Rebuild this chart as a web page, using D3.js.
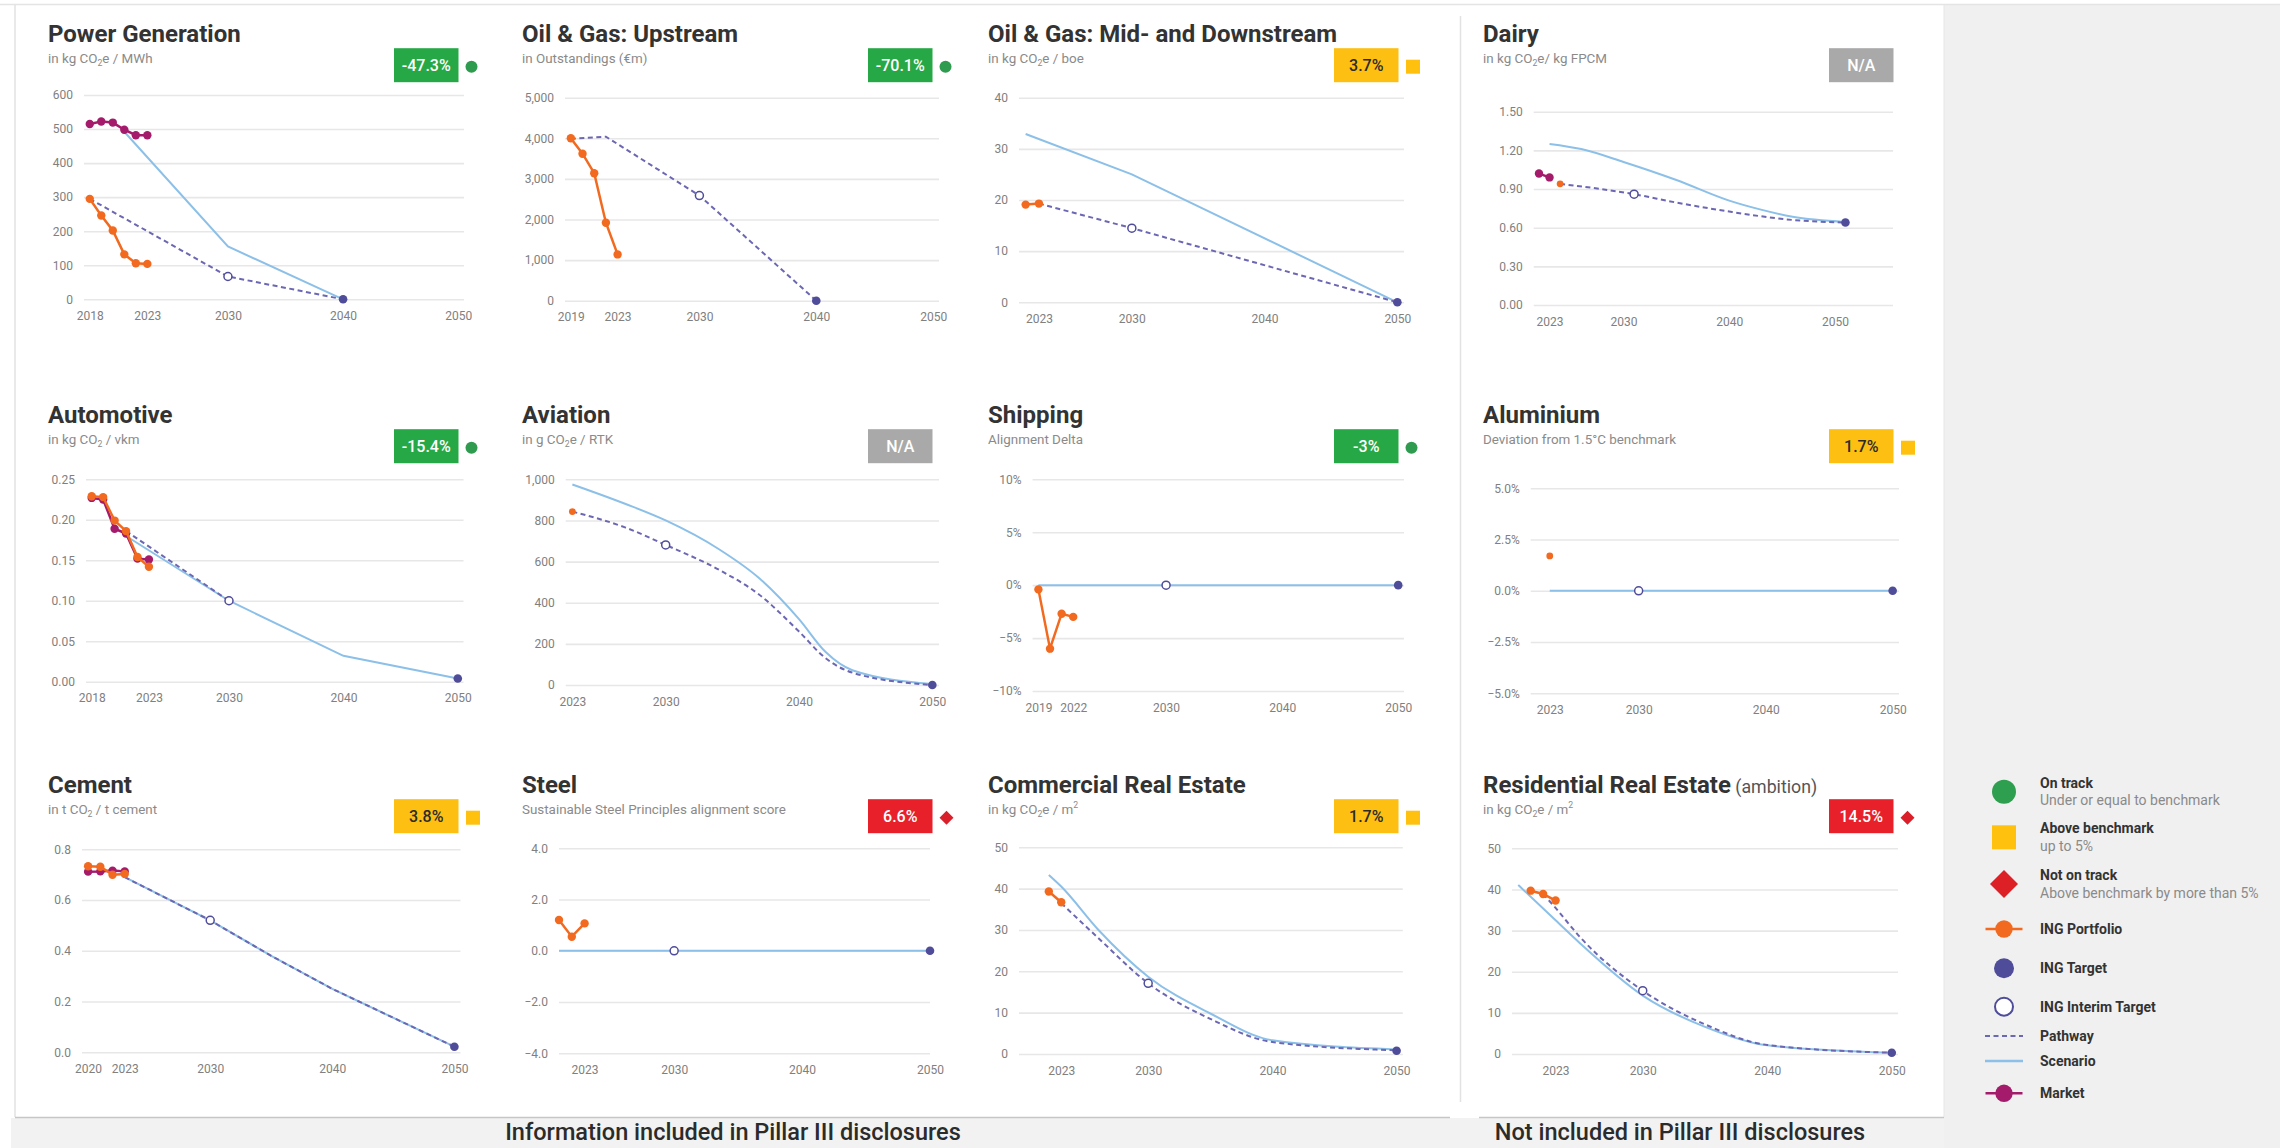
<!DOCTYPE html>
<html>
<head>
<meta charset="utf-8">
<script src="https://cdn.jsdelivr.net/npm/d3@7"></script>
<style>
  html, body { margin: 0; padding: 0; background: #fff; }
  svg { display: block; }
</style>
</head>
<body>
<svg id="chart" width="2280" height="1148"></svg>
<script>
// ---------------- Sector data: [year, value] ----------------
// Power Generation (kg CO2e / MWh)
const powerPortfolio = [[2018, 295], [2019, 246], [2020, 202], [2021, 132], [2022, 106], [2023, 104]];
const powerMarket    = [[2018, 515], [2019, 522], [2020, 519], [2021, 498], [2022, 482], [2023, 482]];
const powerScenario  = [[2021, 492], [2030, 155], [2040, 0]];
const powerPathway   = [[2018, 295], [2030, 67], [2040, 0]];
const powerInterim   = [[2030, 67]];
const powerTarget    = [[2040, 0]];

// Oil & Gas: Upstream (outstandings, EUR m)
const upstreamPortfolio = [[2019, 4000], [2020, 3620], [2021, 3140], [2022, 1920], [2023, 1140]];
const upstreamPathway   = [[2019, 3990], [2022, 4040], [2030, 2590], [2040, 0]];
const upstreamInterim   = [[2030, 2590]];
const upstreamTarget    = [[2040, 0]];

// Oil & Gas: Mid- and Downstream (kg CO2e / boe)
const midPortfolio = [[2022, 19.1], [2023, 19.3]];
const midScenario  = [[2022, 32.9], [2030, 25.0], [2050, 0]];
const midPathway   = [[2023, 19.3], [2030, 14.5], [2050, 0]];
const midInterim   = [[2030, 14.5]];
const midTarget    = [[2050, 0]];

// Dairy (kg CO2e / kg FPCM)
const dairyMarket    = [[2022, 1.02], [2023, 0.99]];
const dairyPortfolio = [[2024, 0.94]];
const dairyScenario  = [[2023, 1.25], [2026, 1.21], [2030, 1.11], [2035, 0.97], [2040, 0.81], [2043, 0.74], [2046, 0.685], [2051, 0.645]];
const dairyPathway   = [[2024, 0.94], [2031, 0.86], [2035, 0.795], [2040, 0.725], [2046, 0.66], [2051, 0.64]];
const dairyInterim   = [[2031, 0.86]];
const dairyTarget    = [[2051, 0.64]];

// Automotive (kg CO2 / vkm)
const autoPortfolio = [[2018, 0.229], [2019, 0.228], [2020, 0.199], [2021, 0.186], [2022, 0.154], [2023, 0.142]];
const autoMarket    = [[2018, 0.227], [2019, 0.225], [2020, 0.189], [2021, 0.183], [2022, 0.152], [2023, 0.151]];
const autoScenario  = [[2021, 0.180], [2030, 0.100], [2040, 0.032], [2050, 0.004]];
const autoPathway   = [[2021, 0.186], [2030, 0.100]];
const autoInterim   = [[2030, 0.100]];
const autoTarget    = [[2050, 0.004]];

// Aviation (g CO2e / RTK)
const aviationPortfolio = [[2023, 843]];
const aviationScenario  = [[2023, 975], [2027, 880], [2030, 800], [2034, 660], [2037, 520], [2040, 320], [2042, 160], [2044, 72], [2050, 5]];
const aviationPathway   = [[2023, 843], [2027, 765], [2030, 681], [2034, 560], [2037, 440], [2040, 260], [2042, 130], [2044, 60], [2050, 0]];
const aviationInterim   = [[2030, 681]];
const aviationTarget    = [[2050, 0]];

// Shipping (alignment delta, %)
const shippingPortfolio = [[2019, -0.4], [2020, -6.0], [2021, -2.7], [2022, -3.0]];
const shippingScenario  = [[2019, 0], [2050, 0]];
const shippingInterim   = [[2030, 0]];
const shippingTarget    = [[2050, 0]];

// Aluminium (deviation from 1.5°C benchmark, %)
const aluminiumPortfolio = [[2023, 1.7]];
const aluminiumScenario  = [[2023, 0], [2050, 0]];
const aluminiumInterim   = [[2030, 0]];
const aluminiumTarget    = [[2050, 0]];

// Cement (t CO2 / t cement)
const cementPortfolio = [[2020, 0.733], [2021, 0.731], [2022, 0.700], [2023, 0.703]];
const cementMarket    = [[2020, 0.712], [2021, 0.713], [2022, 0.716], [2023, 0.713]];
const cementScenario  = [[2023, 0.69], [2030, 0.52], [2035, 0.38], [2040, 0.25], [2050, 0.022]];
const cementPathway   = [[2023, 0.69], [2030, 0.52], [2035, 0.38], [2040, 0.25], [2050, 0.022]];
const cementInterim   = [[2030, 0.52]];
const cementTarget    = [[2050, 0.022]];

// Steel (Sustainable Steel Principles alignment score)
const steelPortfolio = [[2021, 1.2], [2022, 0.55], [2023, 1.07]];
const steelScenario  = [[2021, 0], [2050, 0]];
const steelInterim   = [[2030, 0]];
const steelTarget    = [[2050, 0]];

// Commercial Real Estate (kg CO2e / m2)
const crePortfolio = [[2022, 39.3], [2023, 36.7]];
const creScenario  = [[2022, 43.3], [2023, 40.5], [2026, 30.0], [2030, 18.7], [2035, 9.8], [2040, 3.3], [2050, 1.1]];
const crePathway   = [[2023, 36.5], [2026, 28.0], [2030, 17.1], [2035, 8.5], [2040, 2.9], [2050, 0.9]];
const creInterim   = [[2030, 17.1]];
const creTarget    = [[2050, 0.8]];

// Residential Real Estate (kg CO2e / m2)
const rrePortfolio = [[2021, 39.7], [2022, 38.9], [2023, 37.3]];
const rreScenario  = [[2020, 41.1], [2023, 32.5], [2025, 26.8], [2030, 14.2], [2035, 6.6], [2040, 2.1], [2050, 0.3]];
const rrePathway   = [[2022, 38.9], [2023, 35.5], [2025, 28.3], [2030, 15.4], [2035, 7.2], [2040, 2.2], [2050, 0.3]];
const rreInterim   = [[2030, 15.4]];
const rreTarget    = [[2050, 0.3]];

// ---------------- Tick labels ----------------
const yearsFrom2018 = [2018, 2023, 2030, 2040, 2050];
const yearsFrom2019 = [2019, 2023, 2030, 2040, 2050];
const yearsFrom2020 = [2020, 2023, 2030, 2040, 2050];
const yearsShipping = [2019, 2022, 2030, 2040, 2050];
const yearsFrom2023 = [2023, 2030, 2040, 2050];

const yTicksPower    = [0, 100, 200, 300, 400, 500, 600];
const yTicksUpstream = [0, 1000, 2000, 3000, 4000, 5000];
const yTicksMid      = [0, 10, 20, 30, 40];
const yTicksDairy    = [0, 0.3, 0.6, 0.9, 1.2, 1.5];
const yTicksAuto     = [0, 0.05, 0.10, 0.15, 0.20, 0.25];
const yTicksAviation = [0, 200, 400, 600, 800, 1000];
const yTicksShipping = [-10, -5, 0, 5, 10];
const yTicksAlu      = [-5, -2.5, 0, 2.5, 5];
const yTicksCement   = [0, 0.2, 0.4, 0.6, 0.8];
const yTicksSteel    = [-4, -2, 0, 2, 4];
const yTicksRealEst  = [0, 10, 20, 30, 40, 50];

// ---------------- Styling ----------------
const FONT = "Roboto, 'Open Sans', 'Liberation Sans', sans-serif";
const C = {
  portfolio: "#f26a1f",
  market: "#a51b6c",
  target: "#4f4c9a",
  pathway: "#6c67b3",
  scenario: "#8cc0e8",
  grid: "#e7e7e7",
  axisText: "#808080",
  title: "#333333",
  sub: "#8a8a8a"
};
const STATUS = {
  on:    { fill: "#27a846", text: "#ffffff", marker: "circle",  markerFill: "#2e9b4f" },
  above: { fill: "#fdbf12", text: "#2b2b2b", marker: "square",  markerFill: "#ffc10e" },
  off:   { fill: "#e8202a", text: "#ffffff", marker: "diamond", markerFill: "#d9202a" },
  na:    { fill: "#a9a9a9", text: "#ffffff", marker: null }
};

const colX = [48, 522, 988, 1483];
const rowY = [41.7, 422.7, 792.7];

const fInt = d3.format(",d");
const f2 = d3.format(".2f");
const f1 = d3.format(".1f");
const fPct = d => d3.format("d")(d) + "%";
const fPct1 = d => d3.format(".1f")(d) + "%";

const panels = [
  { col: 0, row: 0, title: ["Power Generation"], sub: ["in kg CO", {sub: "2"}, "e / MWh"], badge: "-47.3%", status: "on",
    xDomain: [2017.5, 2050.5], xRange: [84, 464], xTicks: yearsFrom2018,
    yDomain: [0, 600], yRange: [299.3, 95], yTicks: yTicksPower, yFormat: fInt, curve: d3.curveLinear,
    scenario: powerScenario, pathway: powerPathway, market: powerMarket, portfolio: powerPortfolio, interim: powerInterim, target: powerTarget },
  { col: 1, row: 0, title: ["Oil & Gas: Upstream"], sub: ["in Outstandings (€m)"], badge: "-70.1%", status: "on",
    xDomain: [2018.5, 2050.5], xRange: [565, 939], xTicks: yearsFrom2019,
    yDomain: [0, 5000], yRange: [300.7, 97.7], yTicks: yTicksUpstream, yFormat: fInt, curve: d3.curveLinear,
    pathway: upstreamPathway, portfolio: upstreamPortfolio, interim: upstreamInterim, target: upstreamTarget },
  { col: 2, row: 0, title: ["Oil & Gas: Mid- and Downstream"], sub: ["in kg CO", {sub: "2"}, "e / boe"], badge: "3.7%", status: "above",
    xDomain: [2021.5, 2050.5], xRange: [1019, 1404], xTicks: yearsFrom2023,
    yDomain: [0, 40], yRange: [302.3, 97.7], yTicks: yTicksMid, yFormat: fInt, curve: d3.curveLinear,
    scenario: midScenario, pathway: midPathway, portfolio: midPortfolio, interim: midInterim, target: midTarget },
  { col: 3, row: 0, title: ["Dairy"], sub: ["in kg CO", {sub: "2"}, "e/ kg FPCM"], badge: "N/A", status: "na",
    xDomain: [2021.5, 2055.5], xRange: [1533.7, 1893], xTicks: yearsFrom2023,
    yDomain: [0, 1.5], yRange: [305, 111.7], yTicks: yTicksDairy, yFormat: f2, curve: d3.curveMonotoneX,
    scenario: dairyScenario, pathway: dairyPathway, market: dairyMarket, portfolio: dairyPortfolio, interim: dairyInterim, target: dairyTarget },

  { col: 0, row: 1, title: ["Automotive"], sub: ["in kg CO", {sub: "2"}, " / vkm"], badge: "-15.4%", status: "on",
    xDomain: [2017.5, 2050.5], xRange: [86, 463.5], xTicks: yearsFrom2018,
    yDomain: [0, 0.25], yRange: [681.7, 479.3], yTicks: yTicksAuto, yFormat: f2, curve: d3.curveLinear,
    scenario: autoScenario, pathway: autoPathway, market: autoMarket, portfolio: autoPortfolio, interim: autoInterim, target: autoTarget },
  { col: 1, row: 1, title: ["Aviation"], sub: ["in g CO", {sub: "2"}, "e / RTK"], badge: "N/A", status: "na",
    xDomain: [2022.5, 2050.5], xRange: [565.7, 939], xTicks: yearsFrom2023,
    yDomain: [0, 1000], yRange: [685, 479.3], yTicks: yTicksAviation, yFormat: fInt, curve: d3.curveMonotoneX,
    scenario: aviationScenario, pathway: aviationPathway, portfolio: aviationPortfolio, interim: aviationInterim, target: aviationTarget },
  { col: 2, row: 1, title: ["Shipping"], sub: ["Alignment Delta"], badge: "-3%", status: "on",
    xDomain: [2018.5, 2050.5], xRange: [1032.6, 1404], xTicks: yearsShipping,
    yDomain: [-10, 10], yRange: [691, 479.3], yTicks: yTicksShipping, yFormat: fPct, curve: d3.curveLinear,
    scenario: shippingScenario, portfolio: shippingPortfolio, interim: shippingInterim, target: shippingTarget },
  { col: 3, row: 1, title: ["Aluminium"], sub: ["Deviation from 1.5°C benchmark"], badge: "1.7%", status: "above",
    xDomain: [2021.5, 2050.5], xRange: [1530.7, 1899], xTicks: yearsFrom2023,
    yDomain: [-5, 5], yRange: [693.3, 488.3], yTicks: yTicksAlu, yFormat: fPct1, curve: d3.curveLinear,
    scenario: aluminiumScenario, portfolio: aluminiumPortfolio, interim: aluminiumInterim, target: aluminiumTarget },

  { col: 0, row: 2, title: ["Cement"], sub: ["in t CO", {sub: "2"}, " / t cement"], badge: "3.8%", status: "above",
    xDomain: [2019.5, 2050.5], xRange: [82, 460.5], xTicks: yearsFrom2020,
    yDomain: [0, 0.8], yRange: [1052.3, 849.3], yTicks: yTicksCement, yFormat: f1, curve: d3.curveLinear,
    scenario: cementScenario, pathway: cementPathway, market: cementMarket, portfolio: cementPortfolio, interim: cementInterim, target: cementTarget },
  { col: 1, row: 2, title: ["Steel"], sub: ["Sustainable Steel Principles alignment score"], badge: "6.6%", status: "off",
    xDomain: [2021, 2050], xRange: [559, 930], xTicks: yearsFrom2023,
    yDomain: [-4, 4], yRange: [1053.3, 848.3], yTicks: yTicksSteel, yFormat: f1, curve: d3.curveLinear,
    scenario: steelScenario, portfolio: steelPortfolio, interim: steelInterim, target: steelTarget },
  { col: 2, row: 2, title: ["Commercial Real Estate"], sub: ["in kg CO", {sub: "2"}, "e / m", {sup: "2"}], badge: "1.7%", status: "above",
    xDomain: [2019.6, 2050.5], xRange: [1019, 1402.8], xTicks: yearsFrom2023,
    yDomain: [0, 50], yRange: [1054, 847.3], yTicks: yTicksRealEst, yFormat: fInt, curve: d3.curveMonotoneX,
    scenario: creScenario, pathway: crePathway, portfolio: crePortfolio, interim: creInterim, target: creTarget },
  { col: 3, row: 2, title: ["Residential Real Estate", {light: " (ambition)"}], sub: ["in kg CO", {sub: "2"}, "e / m", {sup: "2"}], badge: "14.5%", status: "off",
    xDomain: [2019.5, 2050.5], xRange: [1512, 1898], xTicks: yearsFrom2023,
    yDomain: [0, 50], yRange: [1054, 848.3], yTicks: yTicksRealEst, yFormat: fInt, curve: d3.curveMonotoneX,
    scenario: rreScenario, pathway: rrePathway, portfolio: rrePortfolio, interim: rreInterim, target: rreTarget }
];

const svg = d3.select("#chart").attr("font-family", FONT);

// ---------------- Page frame ----------------
svg.append("rect").attr("width", 2280).attr("height", 1148).attr("fill", "#ffffff");
svg.append("rect").attr("x", 1944).attr("y", 5).attr("width", 336).attr("height", 1143).attr("fill", "#f0f0f0");
svg.append("rect").attr("x", 11).attr("y", 1118).attr("width", 1933).attr("height", 30).attr("fill", "#f2f2f2");
svg.append("line").attr("x1", 0).attr("x2", 2280).attr("y1", 4.5).attr("y2", 4.5).attr("stroke", "#e4e4e4").attr("stroke-width", 1.5);
svg.append("line").attr("x1", 15).attr("x2", 15).attr("y1", 5).attr("y2", 1117).attr("stroke", "#e2e2e2").attr("stroke-width", 1.5);
svg.append("line").attr("x1", 1944).attr("x2", 1944).attr("y1", 5).attr("y2", 1117).attr("stroke", "#e6e6e6").attr("stroke-width", 1);
svg.append("line").attr("x1", 1460.5).attr("x2", 1460.5).attr("y1", 16).attr("y2", 1102).attr("stroke", "#e2e2e2").attr("stroke-width", 1.5);
[[15, 1450], [1479, 1944]].forEach(([a, b]) => {
  svg.append("line").attr("x1", a).attr("x2", b).attr("y1", 1117.5).attr("y2", 1117.5).attr("stroke", "#c6c6c6").attr("stroke-width", 1.6);
});

// Rich text: plain strings, subscripts, superscripts and a lighter trailing part
function richText(textSel, parts, baseSize) {
  let pendingDy = 0;
  parts.forEach(p => {
    if (typeof p === "string") {
      const t = textSel.append("tspan").text(p);
      if (pendingDy) { t.attr("dy", pendingDy); pendingDy = 0; }
    } else if (p.sub) {
      textSel.append("tspan").attr("font-size", baseSize * 0.65).attr("dy", baseSize * 0.25).text(p.sub);
      pendingDy = -baseSize * 0.25;
    } else if (p.sup) {
      textSel.append("tspan").attr("font-size", baseSize * 0.65).attr("dy", -baseSize * 0.4).text(p.sup);
      pendingDy = baseSize * 0.4;
    } else if (p.light) {
      textSel.append("tspan").attr("font-size", baseSize * 0.74).attr("font-weight", 400).attr("fill", "#555").text(p.light);
    }
  });
}

function drawStatusMarker(g, kind, cx, cy, size, fill) {
  if (kind === "circle") {
    g.append("circle").attr("cx", cx).attr("cy", cy).attr("r", size).attr("fill", fill);
  } else if (kind === "square") {
    g.append("rect").attr("x", cx - size).attr("y", cy - size).attr("width", size * 2).attr("height", size * 2).attr("fill", fill);
  } else if (kind === "diamond") {
    g.append("path").attr("d", `M${cx},${cy - size}L${cx + size},${cy}L${cx},${cy + size}L${cx - size},${cy}Z`).attr("fill", fill);
  }
}

function drawPanel(p) {
  const g = svg.append("g").attr("class", "panel");
  const tx = colX[p.col], ty = rowY[p.row];

  // Header: title, unit line, status badge
  const title = g.append("text").attr("x", tx).attr("y", ty).attr("font-size", 24).attr("font-weight", 700)
    .attr("fill", C.title);
  richText(title, p.title, 24);
  const sub = g.append("text").attr("x", tx).attr("y", ty + 21).attr("font-size", 13.4).attr("fill", C.sub);
  richText(sub, p.sub, 13.4);

  const st = STATUS[p.status];
  const bx = tx + 346, by = ty + 6.5, bw = 64.5, bh = 34;
  g.append("rect").attr("x", bx).attr("y", by).attr("width", bw).attr("height", bh).attr("fill", st.fill);
  g.append("text").attr("x", bx + bw / 2).attr("y", by + bh / 2 + 5.5).attr("text-anchor", "middle")
    .attr("font-size", 16).attr("font-weight", 500).attr("fill", st.text).text(p.badge);
  if (st.marker === "circle") drawStatusMarker(g, "circle", bx + bw + 13, by + bh / 2 + 1.5, 6, st.markerFill);
  if (st.marker === "square") drawStatusMarker(g, "square", bx + bw + 14.5, by + bh / 2 + 1.5, 7, st.markerFill);
  if (st.marker === "diamond") drawStatusMarker(g, "diamond", bx + bw + 14, by + bh / 2 + 1.5, 7, st.markerFill);

  // Scales and axes
  const x = d3.scaleLinear().domain(p.xDomain).range(p.xRange);
  const y = d3.scaleLinear().domain(p.yDomain).range(p.yRange);
  const w = p.xRange[1] - p.xRange[0];

  g.append("g").attr("transform", `translate(${p.xRange[0]},0)`)
    .call(d3.axisLeft(y).tickValues(p.yTicks).tickFormat(p.yFormat).tickSize(-w).tickPadding(11))
    .call(a => {
      a.select(".domain").remove();
      a.attr("font-family", FONT).attr("font-size", 12).attr("color", C.axisText);
      a.selectAll(".tick line").attr("stroke", C.grid).attr("stroke-width", 1.6);
    });
  g.append("g").attr("transform", `translate(0,${p.yRange[0]})`)
    .call(d3.axisBottom(x).tickValues(p.xTicks).tickFormat(d3.format("d")).tickSize(0).tickPadding(12))
    .call(a => {
      a.select(".domain").remove();
      a.attr("font-family", FONT).attr("font-size", 12).attr("color", C.axisText);
    });

  const line = d3.line().x(d => x(d[0])).y(d => y(d[1]));
  const smooth = d3.line().x(d => x(d[0])).y(d => y(d[1])).curve(p.curve);

  if (p.scenario) g.append("path").datum(p.scenario).attr("d", smooth).attr("fill", "none")
    .attr("stroke", C.scenario).attr("stroke-width", 2);
  if (p.pathway) g.append("path").datum(p.pathway).attr("d", smooth).attr("fill", "none")
    .attr("stroke", C.pathway).attr("stroke-width", 2).attr("stroke-dasharray", "5 3.5");

  const series = (data, color) => {
    if (data.length > 1) g.append("path").datum(data).attr("d", line).attr("fill", "none")
      .attr("stroke", color).attr("stroke-width", 2.5);
    g.append("g").selectAll("circle").data(data).join("circle")
      .attr("cx", d => x(d[0])).attr("cy", d => y(d[1]))
      .attr("r", data.length > 1 ? 4.2 : 3.4).attr("fill", color);
  };
  if (p.market) series(p.market, C.market);
  if (p.portfolio) series(p.portfolio, C.portfolio);

  g.append("g").selectAll("circle").data(p.interim).join("circle")
    .attr("cx", d => x(d[0])).attr("cy", d => y(d[1])).attr("r", 4)
    .attr("fill", "#fff").attr("stroke", C.target).attr("stroke-width", 1.5);
  g.append("g").selectAll("circle").data(p.target).join("circle")
    .attr("cx", d => x(d[0])).attr("cy", d => y(d[1])).attr("r", 4.3).attr("fill", C.target);
}

panels.forEach(drawPanel);

// ---------------- Legend ----------------
const lg = svg.append("g").attr("class", "legend");
const LX = 2004, TX = 2040;
const statusItems = [
  { kind: "circle", fill: "#2e9e4f", size: 12, cy: 791.7, name: "On track", desc: "Under or equal to benchmark" },
  { kind: "square", fill: "#ffc10e", size: 12, cy: 837.3, name: "Above benchmark", desc: "up to 5%" },
  { kind: "diamond", fill: "#dd1f26", size: 14, cy: 884, name: "Not on track", desc: "Above benchmark by more than 5%" }
];
statusItems.forEach(it => {
  drawStatusMarker(lg, it.kind, LX, it.cy, it.size, it.fill);
  lg.append("text").attr("x", TX).attr("y", it.cy - 4).attr("font-size", 14).attr("font-weight", 700).attr("fill", "#333").text(it.name);
  lg.append("text").attr("x", TX).attr("y", it.cy + 13.5).attr("font-size", 14).attr("fill", "#8a8a8a").text(it.desc);
});
const seriesItems = [
  { type: "lineDot", color: C.portfolio, cy: 929, name: "ING Portfolio" },
  { type: "dot", color: C.target, cy: 968.3, name: "ING Target" },
  { type: "ring", color: C.target, cy: 1006.7, name: "ING Interim Target" },
  { type: "dash", color: C.pathway, cy: 1036, name: "Pathway" },
  { type: "solid", color: C.scenario, cy: 1061, name: "Scenario" },
  { type: "lineDot", color: C.market, cy: 1093.3, name: "Market" }
];
seriesItems.forEach(it => {
  if (it.type === "lineDot") {
    lg.append("line").attr("x1", LX - 18.5).attr("x2", LX + 18.5).attr("y1", it.cy).attr("y2", it.cy).attr("stroke", it.color).attr("stroke-width", 2.5);
    lg.append("circle").attr("cx", LX).attr("cy", it.cy).attr("r", 8.7).attr("fill", it.color);
  } else if (it.type === "dot") {
    lg.append("circle").attr("cx", LX).attr("cy", it.cy).attr("r", 10).attr("fill", it.color);
  } else if (it.type === "ring") {
    lg.append("circle").attr("cx", LX).attr("cy", it.cy).attr("r", 9).attr("fill", "#fff").attr("stroke", it.color).attr("stroke-width", 2);
  } else if (it.type === "dash") {
    lg.append("line").attr("x1", LX - 19).attr("x2", LX + 19).attr("y1", it.cy).attr("y2", it.cy).attr("stroke", it.color).attr("stroke-width", 2).attr("stroke-dasharray", "5 3.5");
  } else if (it.type === "solid") {
    lg.append("line").attr("x1", LX - 19).attr("x2", LX + 19).attr("y1", it.cy).attr("y2", it.cy).attr("stroke", it.color).attr("stroke-width", 2.5);
  }
  lg.append("text").attr("x", TX).attr("y", it.cy + 5).attr("font-size", 14).attr("font-weight", 700).attr("fill", "#333").text(it.name);
});

// ---------------- Footer ----------------
const footer = [
  { x: 733, label: "Information included in Pillar III disclosures" },
  { x: 1680, label: "Not included in Pillar III disclosures" }
];
footer.forEach(f => {
  svg.append("text").attr("x", f.x).attr("y", 1140).attr("text-anchor", "middle")
    .attr("font-size", 23.5).attr("font-weight", 500).attr("fill", "#2b2b2b").text(f.label);
});
</script>
</body>
</html>
